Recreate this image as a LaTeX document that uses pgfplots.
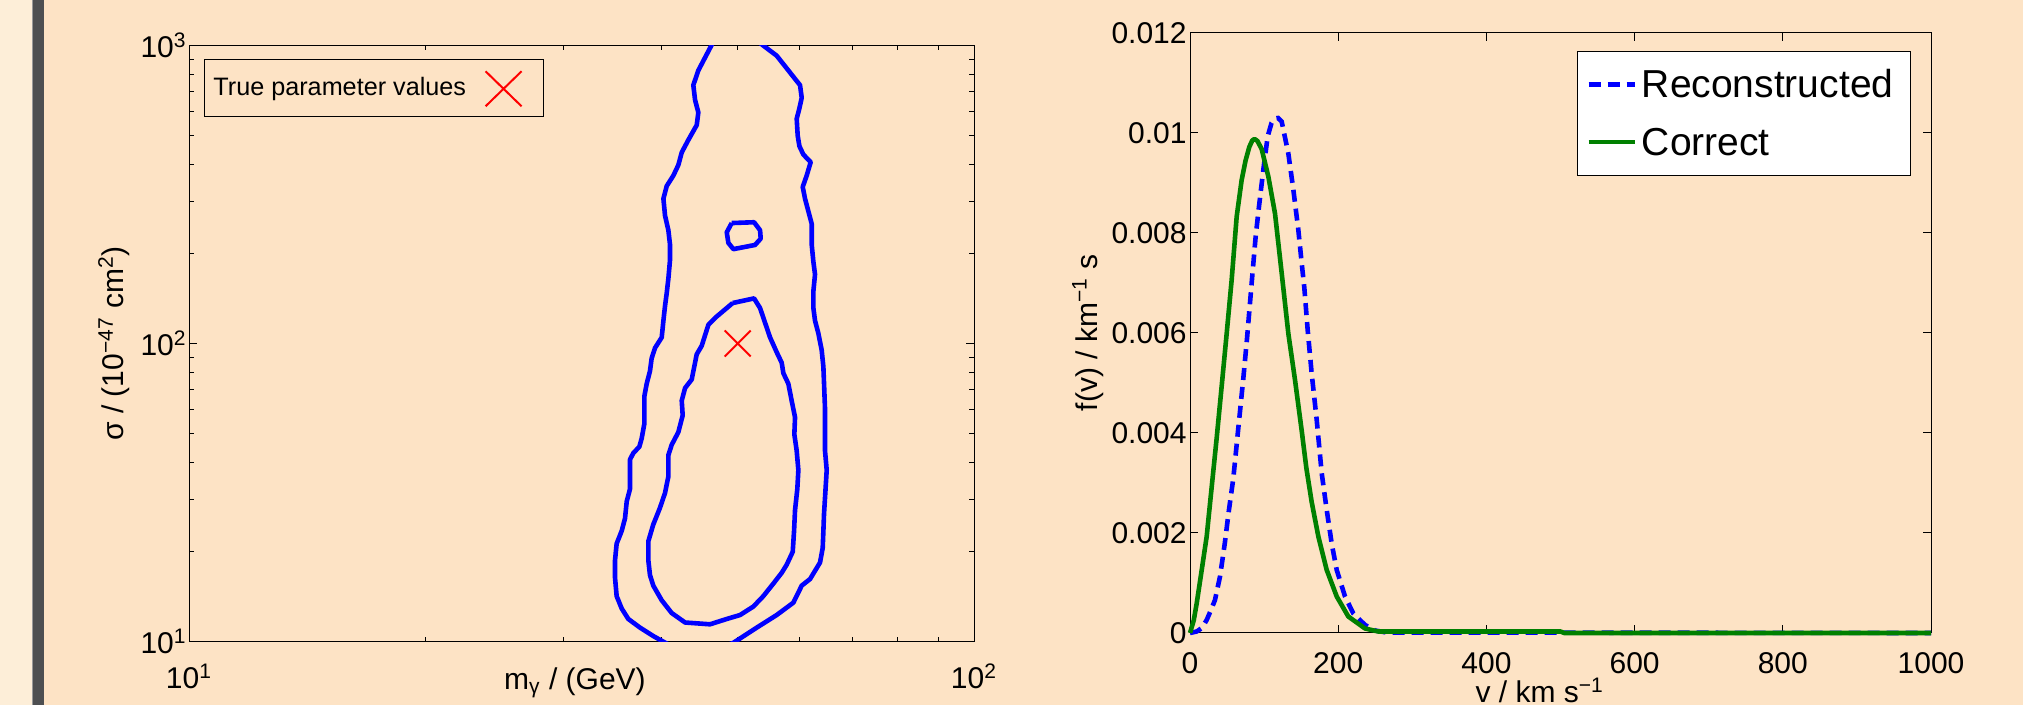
\documentclass[border=0pt]{standalone}
\usepackage{pgfplots}
\pgfplotsset{compat=1.18}
\usepackage{fontspec}
\setmainfont{Liberation Sans}
\definecolor{peach}{RGB}{253,227,197}
\definecolor{lightpeach}{RGB}{253,238,216}
\definecolor{darkbar}{RGB}{78,79,81}
\definecolor{mblue}{RGB}{0,0,255}
\definecolor{mgreen}{RGB}{0,128,0}
\begin{document}
\begin{tikzpicture}
\fill[peach] (0,0) rectangle (1011.5pt,352.5pt);
\fill[lightpeach] (0,0) rectangle (16pt,352.5pt);
\fill[darkbar] (16pt,0) rectangle (22.2pt,352.5pt);
\fill[gray!80] (15.8pt,0) rectangle (16.6pt,352.5pt);

\begin{axis}[
  at={(94.5pt,31.75pt)}, anchor=south west,
  scale only axis, width=392.5pt, height=298pt,
  xmode=log, ymode=log,
  xmin=10, xmax=100, ymin=10, ymax=1000,
  xtick={10,100}, xticklabels={10\textsuperscript{1},10\textsuperscript{2}},
  ytick={10,100,1000}, yticklabels={10\textsuperscript{1},10\textsuperscript{2},10\textsuperscript{3}},
  minor xtick={20,30,40,50,60,70,80,90},
  minor ytick={20,30,40,50,60,70,80,90,200,300,400,500,600,700,800,900},
  tick align=inside, xtick pos=both, ytick pos=both,
  major tick length=4pt, minor tick length=2.5pt,
  axis line style={line width=0.5pt},
  every tick/.style={black, line width=0.5pt},
  tick label style={font=\fontsize{15}{18}\selectfont},
  xticklabel style={anchor=base, inner sep=0pt, yshift=-23.7pt},
  yticklabel style={anchor=east, inner sep=0pt, xshift=-1pt},
  label style={font=\fontsize{15}{18}\selectfont},
  xlabel={m\textsubscript{γ} / (GeV)},
  ylabel={σ / (10\textsuperscript{−47} cm\textsuperscript{2})},
  xlabel style={at={(axis description cs:0.4917,0)}, anchor=base, yshift=-24pt},
  ylabel style={at={(axis description cs:-0.0837,0.5)}, anchor=base},
  legend style={at={(axis description cs:0.0197,0.9765)}, anchor=north west,
    fill=peach, draw=black, line width=0.5pt, inner xsep=4.25pt, inner ysep=0pt,
    font=\fontsize{12.6}{15}\selectfont,
    nodes={inner sep=0pt, text height=10pt, text depth=3.3pt}},
  legend plot pos=right,
  legend image code/.code={\path (0pt,-13.5pt) (34.1pt,14.15pt); \draw[red, line width=1pt] (9.5pt,-8.75pt)--(27.5pt,8.75pt) (9.5pt,8.75pt)--(27.5pt,-8.75pt);},
]
\addplot[mblue, line width=2.3pt, line join=round, forget plot] coordinates {
(46.6,1035) (44.55,824.7) (43.90,736.1) (44.12,657.0) (44.55,596.0) (44.34,540.6) (43.27,482.4) (42.43,437.6) (42.01,397.0) (41.40,366.0) (40.60,337.5) (40.21,306.1) (40.40,268.8) (40.80,239.9) (41.00,214.1) (41.00,191.1) (40.80,165.1) (40.60,147.4) (40.40,133.6) (40.21,119.3) (40.01,104.8) (39.24,96.6) (38.85,89.1) (38.66,80.8) (38.29,73.3) (38.03,66.5) (38.03,60.3) (38.03,53.8) (37.73,48.0) (37.47,45.0) (36.82,42.9) (36.46,40.8) (36.46,35.8) (36.46,32.5) (36.11,29.5) (35.93,25.9) (35.58,23.5) (35.06,21.3) (34.89,18.7) (34.89,16.4) (35.06,14.2) (35.58,12.9) (36.28,11.9) (37.55,11.13) (39.04,10.43) (40.60,9.84) (43.48,9.16) (46.56,9.3) (49.37,9.9) (52.87,11.13) (56.06,12.27) (58.87,13.5) (60.33,15.4) (61.82,16.2) (63.66,18.4) (64.16,20.6) (64.29,23.5) (64.41,26.8) (64.92,37.6) (64.60,43.6) (64.60,60.3) (64.29,83.5) (63.97,95.0) (63.35,108.2) (62.73,119.3) (62.43,131.5) (62.43,149.8) (62.73,170.6) (62.43,188.0) (62.13,214.1) (62.13,251.9) (61.52,277.7) (60.92,306.1) (60.51,335.3) (61.22,366.0) (61.94,406.1) (60.62,430.6) (59.92,459.5) (59.62,498.4) (59.45,567.6) (59.92,615.6) (60.33,667.7) (60.03,736.1) (58.87,785.5) (57.45,852.0) (56.06,924.1) (54.44,979.7) (53.39,1018.7)
};
\addplot[mblue, line width=2.3pt, line join=round, forget plot] coordinates {
(49.27,136.7) (52.46,141.7) (53.39,131.5) (54.18,117.4) (54.98,104.8) (56.06,93.5) (56.89,86.2) (57.17,79.5) (58.01,73.3) (58.58,64.3) (59.16,56.5) (59.04,49.6) (59.45,43.6) (59.74,37.6) (59.56,32.5) (59.16,27.6) (58.99,23.5) (58.76,20.0) (57.73,18.1) (56.89,17.0) (55.52,15.65) (53.91,14.2) (52.35,13.1) (50.35,12.27) (48.42,11.9) (46.10,11.42) (42.85,11.58) (41.20,12.46) (40.01,13.75) (39.04,15.4) (38.66,16.7) (38.48,18.7) (38.48,21.7) (39.04,24.7) (39.81,28.1) (40.40,31.5) (40.80,35.8) (40.80,42.2) (41.20,45.7) (42.01,50.4) (42.55,57.4) (42.43,64.3) (42.85,70.9) (43.69,75.7) (44.34,92.0) (44.99,98.2) (45.88,115.5) (47.02,123.2) (48.42,131.5) (49.27,136.7)
};
\addplot[mblue, line width=2.3pt, line join=round, forget plot] coordinates {
(49.13,253.6) (52.46,255.2) (53.39,239.9) (53.49,224.8) (52.61,214.1) (49.37,207.3) (48.65,217.6) (48.42,236.1) (49.13,253.6)
};
\addplot[only marks, mark=x, mark size=9.2pt, red, mark options={line width=1pt}] coordinates {(50,100)};
\addlegendentry{True parameter values}
\end{axis}

\begin{axis}[
  at={(595pt,36pt)}, anchor=south west,
  scale only axis, width=370.5pt, height=300pt,
  xmin=0, xmax=1000, ymin=0, ymax=0.012,
  xtick={0,200,400,600,800,1000}, xticklabels={0,200,400,600,800,1000},
  ytick={0,0.002,0.004,0.006,0.008,0.01,0.012},
  yticklabels={0,0.002,0.004,0.006,0.008,0.01,0.012},
  scaled y ticks=false, scaled x ticks=false,
  tick align=inside, xtick pos=both, ytick pos=both,
  major tick length=4pt,
  axis line style={line width=0.5pt},
  every tick/.style={black, line width=0.5pt},
  tick label style={font=\fontsize{15}{18}\selectfont},
  xticklabel style={anchor=base, inner sep=0pt, yshift=-20.15pt},
  yticklabel style={anchor=east, inner sep=0pt, xshift=-1.5pt},
  label style={font=\fontsize{15}{18}\selectfont},
  xlabel={v / km s\textsuperscript{−1}},
  ylabel={f(v) / km\textsuperscript{−1} s},
  xlabel style={at={(axis description cs:0.472,0)}, anchor=base, yshift=-34.8pt},
  ylabel style={at={(axis description cs:-0.1255,0.5)}, anchor=base},
  clip=false,
  legend style={at={(axis description cs:0.9726,0.9703)}, anchor=north east,
    fill=white, draw=black, line width=0.5pt, inner xsep=4.5pt, inner ysep=7.5pt,
    font=\fontsize{19.5}{23}\selectfont, row sep=10.9pt,
    nodes={inner sep=0pt, text height=15.75pt, text depth=2.25pt}},
  legend cell align=left,
  legend image code/.code={\draw[#1] (0pt,0pt)--(23.3pt,0pt); \path (25.5pt,0pt);},
]
\addplot[mblue, line width=2.3pt, dash pattern=on 6pt off 3.5pt] coordinates {
(0,0) (9,0.00003) (16,0.0001) (22.5,0.00026) (28,0.00045) (33.7,0.00066) (40.5,0.00113) (47,0.0018) (52,0.0024) (58.5,0.0031) (65.2,0.0041) (72,0.0051) (77,0.0059) (83.2,0.0070) (88.6,0.00793) (93.1,0.00853) (98.9,0.00926) (104.8,0.00993) (110,0.0102) (114.7,0.01029) (119,0.0103) (123.7,0.01023) (132.7,0.00959) (139.5,0.00886) (146.2,0.00806) (150.7,0.00740) (154.3,0.00690) (158.8,0.00606) (164.2,0.00519) (171,0.00426) (177.7,0.00320) (184.5,0.00246) (191.2,0.00179) (198,0.00126) (209.2,0.00073) (220.4,0.00039) (236.2,0.00016) (249.7,0.00005) (265,0.00001) (1000,0)
};
\addlegendentry{Reconstructed\kern3.9pt}
\addplot[mgreen, line width=2.3pt, line join=round] coordinates {
(0,0) (5,0.00025) (9,0.00059) (15.8,0.00126) (22.5,0.00193) (27,0.00259) (30.5,0.0031) (36,0.0039) (42.7,0.00493) (49.5,0.00599) (56.2,0.00706) (63,0.00833) (69.7,0.00906) (75,0.00945) (80,0.00972) (84,0.00985) (87,0.00988) (91,0.00984) (96.7,0.00968) (105.7,0.00913) (114.7,0.00839) (123.7,0.0072) (132.7,0.00599) (141.7,0.00506) (150.7,0.00405) (157,0.0033) (164.2,0.00262) (173.2,0.00193) (184.5,0.00126) (198,0.00073) (213.6,0.00033) (236.2,0.00009) (254,0.00003) (500,0.00003) (505,0) (1000,0)
};
\addlegendentry{Correct}
\end{axis}
\pgfresetboundingbox
\useasboundingbox (0,0) rectangle (1011.5pt,352.5pt);
\end{tikzpicture}
\end{document}
